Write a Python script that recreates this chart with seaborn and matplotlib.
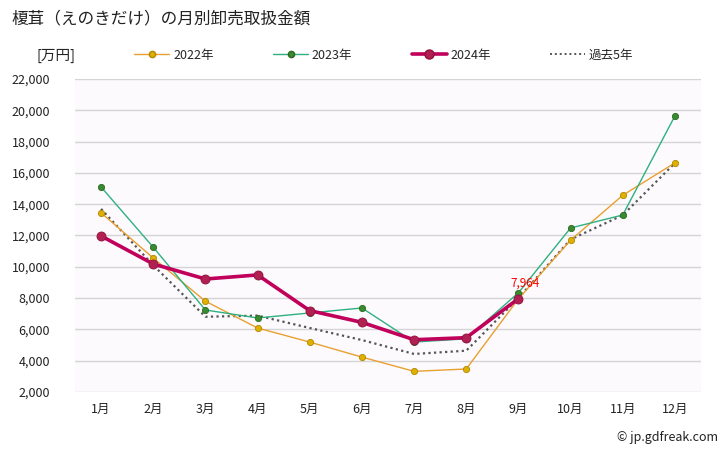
import matplotlib
matplotlib.use("Agg")
import matplotlib.pyplot as plt
import seaborn as sns
import pandas as pd
from matplotlib.lines import Line2D

months = ["1月", "2月", "3月", "4月", "5月", "6月", "7月", "8月", "9月", "10月", "11月", "12月"]
v2022 = [13450, 10560, 7800, 6090, 5190, 4230, 3320, 3470, 7950, 11700, 14570, 16640]
v2023 = [15100, 11250, 7240, 6730, 7050, 7370, 5190, 5400, 8340, 12480, 13310, 19640]
v2024 = [11970, 10180, 9220, 9480, 7200, 6450, 5340, 5470, 7964]
v5yr = [13700, 10100, 6810, 6880, 6090, 5320, 4430, 4640, 8000, 11750, 13300, 16630]
yticks = list(range(2000, 22001, 2000))

sns.set_theme(style="white")
plt.rcParams['font.family'] = ['Noto Sans CJK JP', 'DejaVu Sans']

fig = plt.figure(figsize=(7.28, 4.5), dpi=100)
ax = fig.add_axes([75 / 728, 1 - 392 / 450, 626 / 728, 313 / 450])
ax.set_facecolor("#fcfafd")

x_all = list(range(12))
df22 = pd.DataFrame({"x": x_all, "y": v2022})
df23 = pd.DataFrame({"x": x_all, "y": v2023})
df24 = pd.DataFrame({"x": list(range(len(v2024))), "y": v2024})
df5 = pd.DataFrame({"x": x_all, "y": v5yr})

dot_style = (0, (1, 1.5))
sns.lineplot(data=df5, x="x", y="y", ax=ax, color="#555555", linestyle=dot_style,
             linewidth=1.6, zorder=2)
sns.lineplot(data=df22, x="x", y="y", ax=ax, color="#e8a030", linewidth=1.0,
             marker="o", markersize=4.5, markerfacecolor="#e0b000", markeredgecolor="#b08800",
             markeredgewidth=0.6, zorder=3)
sns.lineplot(data=df23, x="x", y="y", ax=ax, color="#30b080", linewidth=1.0,
             marker="o", markersize=4.5, markerfacecolor="#3a8a30", markeredgecolor="#2a6a20",
             markeredgewidth=0.6, zorder=3)
sns.lineplot(data=df24, x="x", y="y", ax=ax, color="#c0005a", linewidth=2.6,
             marker="o", markersize=6.5, markerfacecolor="#b02050", markeredgecolor="#901040",
             markeredgewidth=0.6, zorder=4)

ax.text(len(v2024) - 1 + 0.12, v2024[-1] + 1000, f"{v2024[-1]:,}", color="red",
        fontsize=8.5, ha="center", va="center", zorder=5)

ax.set_xlim(-0.5, 11.5)
ax.set_ylim(2000, 22000)
ax.set_xticks(x_all)
ax.set_xticklabels(months, fontsize=9)
ax.set_yticks(yticks)
ax.set_yticklabels([f"{t:,}" for t in yticks], fontsize=9)
ax.tick_params(axis="both", length=0, colors="#222222")
ax.tick_params(axis="y", pad=18)
ax.tick_params(axis="x", pad=8)
ax.set_xlabel("")
ax.set_ylabel("")
ax.grid(axis="y", color="#d4d4d4", linewidth=1)
ax.grid(axis="x", visible=False)
for s in ax.spines.values():
    s.set_visible(False)

fig.text(11 / 728, 1 - 19 / 450, "榎茸（えのきだけ）の月別卸売取扱金額", fontsize=12,
         ha="left", va="center", color="#222222")
fig.text(36 / 728, 1 - 56 / 450, "[万円]", fontsize=10.5, ha="left", va="center", color="#222222")
fig.text(718 / 728, 1 - 437 / 450, "© jp.gdfreak.com", fontsize=9, ha="right", va="center",
         color="#222222")

handles = [
    Line2D([], [], color="#e8a030", linewidth=1.0, marker="o", markersize=4.5,
           markerfacecolor="#e0b000", markeredgecolor="#b08800"),
    Line2D([], [], color="#30b080", linewidth=1.0, marker="o", markersize=4.5,
           markerfacecolor="#3a8a30", markeredgecolor="#2a6a20"),
    Line2D([], [], color="#c0005a", linewidth=2.6, marker="o", markersize=6.5,
           markerfacecolor="#b02050", markeredgecolor="#901040"),
    Line2D([], [], color="#555555", linewidth=1.4, linestyle=dot_style),
]
fig.legend(handles, ["2022年", "2023年", "2024年", "過去5年"], loc="center",
           bbox_to_anchor=(384 / 728, 1 - 55 / 450), ncol=4, frameon=False, fontsize=9,
           handlelength=2.8, columnspacing=4.75, handletextpad=0.3)

fig.savefig("out.png", dpi=100, facecolor="white")
